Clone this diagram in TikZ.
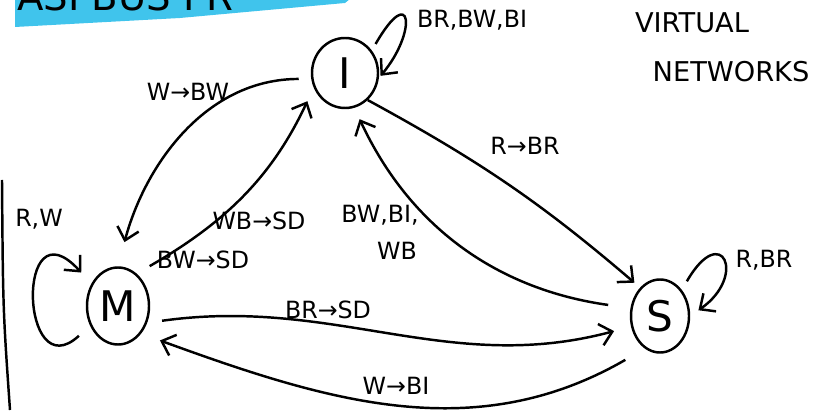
\documentclass[tikz,border=0pt]{standalone}
\usepackage{fontspec}
\setmainfont{DejaVu Sans}
\usetikzlibrary{arrows.meta,shapes.geometric}
\definecolor{hlcyan}{RGB}{64,196,236}

\begin{document}
\begin{tikzpicture}[line width=1.4pt,
  >={Straight Barb[length=2.4mm,width=4.4mm]},
  stnode/.style={draw, ellipse, inner sep=0pt, font=\fontsize{24}{26}\selectfont},
  lbl/.style={inner sep=1pt, font=\fontsize{13.5}{15}\selectfont},
  bigtxt/.style={inner sep=1pt, font=\fontsize{15.5}{17}\selectfont}]
\useasboundingbox (0,0) rectangle (16.58,8.2);

% title strip (cut off at the top)
\fill[hlcyan] (0.3,8.3) -- (7.1,8.3) -- (6.9,8.14) -- (3.6,7.84) -- (0.3,7.66) -- cycle;
\node[anchor=base west, font=\fontsize{22}{24}\selectfont] (title) at (0.2,7.98) {ASI BUS PR};

% edge of the sheet
\draw (0.04,4.6) .. controls (0.06,2) .. (0.2,0);

% states
\node[stnode, minimum width=1.32cm, minimum height=1.4cm] (I) at (6.9,6.74) {I};
\node[stnode, minimum width=1.24cm, minimum height=1.54cm] (M) at (2.36,2.08) {M};
\node[stnode, minimum width=1.16cm, minimum height=1.46cm] (S) at (13.2,1.88) {S};

% labels
\node[lbl] (lI) at (9.44,7.8) {BR,BW,BI};
\node[bigtxt] (vn1) at (13.84,7.74) {VIRTUAL};
\node[bigtxt] (vn2) at (14.62,6.76) {NETWORKS};
\node[lbl] (lIM) at (3.76,6.36) {W→BW};
\node[lbl] (lMI1) at (5.18,3.78) {WB→SD};
\node[lbl] (lMI2) at (4.06,3.0) {BW→SD};
\node[lbl] (lSI1) at (7.6,3.9) {BW,BI,};
\node[lbl] (lSI2) at (7.94,3.18) {WB};
\node[lbl] (lIS) at (10.5,5.28) {R→BR};
\node[lbl] (lS) at (15.28,3.0) {R,BR};
\node[lbl] (lM) at (0.78,3.82) {R,W};
\node[lbl] (lMS) at (6.56,2.0) {BR→SD};
\node[lbl] (lSM) at (7.92,0.48) {W→BI};

% self loops
\draw[->, shorten <=0.15cm, shorten >=0.05cm] (I.40) .. controls +(60:1.6) and +(50:1.2) .. (I.-8);
\draw[->, shorten <=0.2cm, shorten >=0.2cm] (S.50) .. controls +(60:1.6) and +(35:1.4) .. (S.0);
\draw[->, shorten <=0.3cm, shorten >=0.3cm] (M.215) .. controls (0.4,0.4) and (0.3,4.2) .. (M.140);

% I <-> M
\draw[->, shorten <=0.25cm, shorten >=0.5cm] (I.190) to[out=180,in=75] (M.north);
\draw[->, shorten <=0.3cm, shorten >=0.3cm] (M.60) to[out=30,in=245] (I.205);

% I <-> S
\draw[->, shorten >=0.15cm] (I.-50) to[bend left=6] (S.125);
\draw[->, shorten <=0.45cm, shorten >=0.25cm] (S.165) to[out=172,in=-65] (I.-75);

% M <-> S
\draw[->, shorten <=0.3cm, shorten >=0.35cm] (M.-30) to[out=8,in=195] (S.200);
\draw[->, shorten <=0.45cm, shorten >=0.4cm] (S.-115) to[out=-150,in=-20] (M.-50);
\end{tikzpicture}
\end{document}
